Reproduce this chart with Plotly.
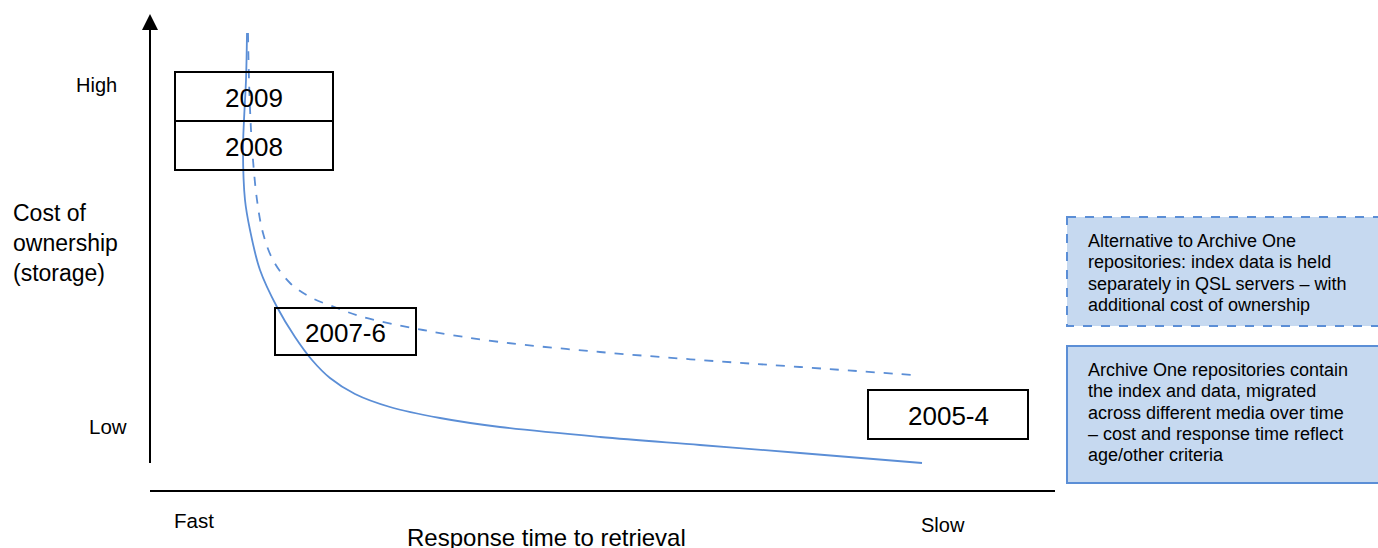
import plotly.graph_objects as go

# ---- data (in picture pixel space) ----
solid_x = [247, 246, 244, 243, 245, 250, 260, 277, 295, 312, 330, 355, 390, 440, 500, 600, 700, 800, 922]
solid_y = [33, 80, 120, 150, 200, 230, 270, 307, 337, 360, 378, 394, 407, 418, 427, 437, 445, 453, 463]
dashed_x = [248, 249, 251, 253, 257, 263, 273, 290, 310, 337, 363, 423, 500, 600, 700, 800, 913]
dashed_y = [33, 80, 130, 160, 200, 233, 260, 283, 297, 308, 317, 330, 342, 352, 360, 367, 375]

year_labels = ["2009", "2008", "2007-6", "2005-4"]
year_box_x0 = [175, 175, 275, 868]
year_box_x1 = [333, 333, 416, 1028]
year_box_y0 = [72, 121, 308, 390]
year_box_y1 = [121, 170, 355, 439]

note_lines = [
    ["Alternative to Archive One", "repositories: index data is held",
     "separately in QSL servers – with", "additional cost of ownership"],
    ["Archive One repositories contain", "the index and data, migrated",
     "across different media over time", "– cost and response time reflect",
     "age/other criteria"],
]
note_first_line_y = [241, 370]
note_y0 = [217, 346]
note_y1 = [326, 483]
note_dash = ["dash", "solid"]

FONT = "Liberation Sans, Arial, sans-serif"
BLUE = "#5b8ed6"

fig = go.Figure()
fig.add_trace(go.Scatter(x=solid_x, y=solid_y, mode="lines",
                         line=dict(color=BLUE, width=1.8, shape="spline", smoothing=1.0), hoverinfo="skip"))
fig.add_trace(go.Scatter(x=dashed_x, y=dashed_y, mode="lines",
                         line=dict(color=BLUE, width=1.8, dash="dash", shape="spline"), hoverinfo="skip"))

shapes = []
annotations = []
# axes lines
shapes.append(dict(type="line", x0=150, x1=150, y0=26, y1=463, line=dict(color="black", width=2)))
shapes.append(dict(type="line", x0=150, x1=1055, y0=491, y1=491, line=dict(color="black", width=2)))
annotations.append(dict(x=150, y=14, ax=150, ay=40, xref="x", yref="y", axref="x", ayref="y",
                        showarrow=True, arrowhead=2, arrowsize=1.6, arrowwidth=2, arrowcolor="black", text=""))

for lab, x0, x1, y0, y1 in zip(year_labels, year_box_x0, year_box_x1, year_box_y0, year_box_y1):
    shapes.append(dict(type="rect", x0=x0, x1=x1, y0=y0, y1=y1, line=dict(color="black", width=2), fillcolor="rgba(0,0,0,0)"))
    annotations.append(dict(x=(x0 + x1) / 2, y=(y0 + y1) / 2 + 1, text=lab, showarrow=False,
                            font=dict(size=26, color="black", family=FONT)))

for lines, fy, y0, y1, d in zip(note_lines, note_first_line_y, note_y0, note_y1, note_dash):
    shapes.append(dict(type="rect", x0=1067, x1=1385, y0=y0, y1=y1, layer="below",
                       line=dict(color=BLUE, width=2, dash=d), fillcolor="#c6d9f0"))
    for i, t in enumerate(lines):
        annotations.append(dict(x=1086, y=fy + i * 21.3, xanchor="left", yanchor="middle", align="left",
                                text=t, showarrow=False, font=dict(size=18, color="black", family=FONT)))

annotations += [
    dict(x=119, y=85, text="High", xanchor="right", showarrow=False, font=dict(size=20, color="black", family=FONT)),
    dict(x=129, y=426, text="Low", xanchor="right", showarrow=False, font=dict(size=20.5, color="black", family=FONT)),
    dict(x=11, y=243, text="Cost of<br>ownership<br>(storage)", xanchor="left", align="left", showarrow=False,
         font=dict(size=23, color="black", family=FONT)),
    dict(x=172, y=520, text="Fast", xanchor="left", showarrow=False, font=dict(size=20.5, color="black", family=FONT)),
    dict(x=919, y=525, text="Slow", xanchor="left", showarrow=False, font=dict(size=20, color="black", family=FONT)),
    dict(x=546, y=537, text="Response time to retrieval", showarrow=False, font=dict(size=24, color="black", family=FONT)),
]

fig.update_layout(
    width=1378, height=548, margin=dict(l=0, r=0, t=0, b=0),
    paper_bgcolor="white", plot_bgcolor="white", showlegend=False,
    xaxis=dict(range=[0, 1378], visible=False, fixedrange=True),
    yaxis=dict(range=[548, 0], visible=False, fixedrange=True),
    shapes=shapes, annotations=annotations,
)
fig.write_html("out.html", config={"displayModeBar": False},
               post_script="document.body.style.margin='0';document.body.style.overflow='hidden';")
